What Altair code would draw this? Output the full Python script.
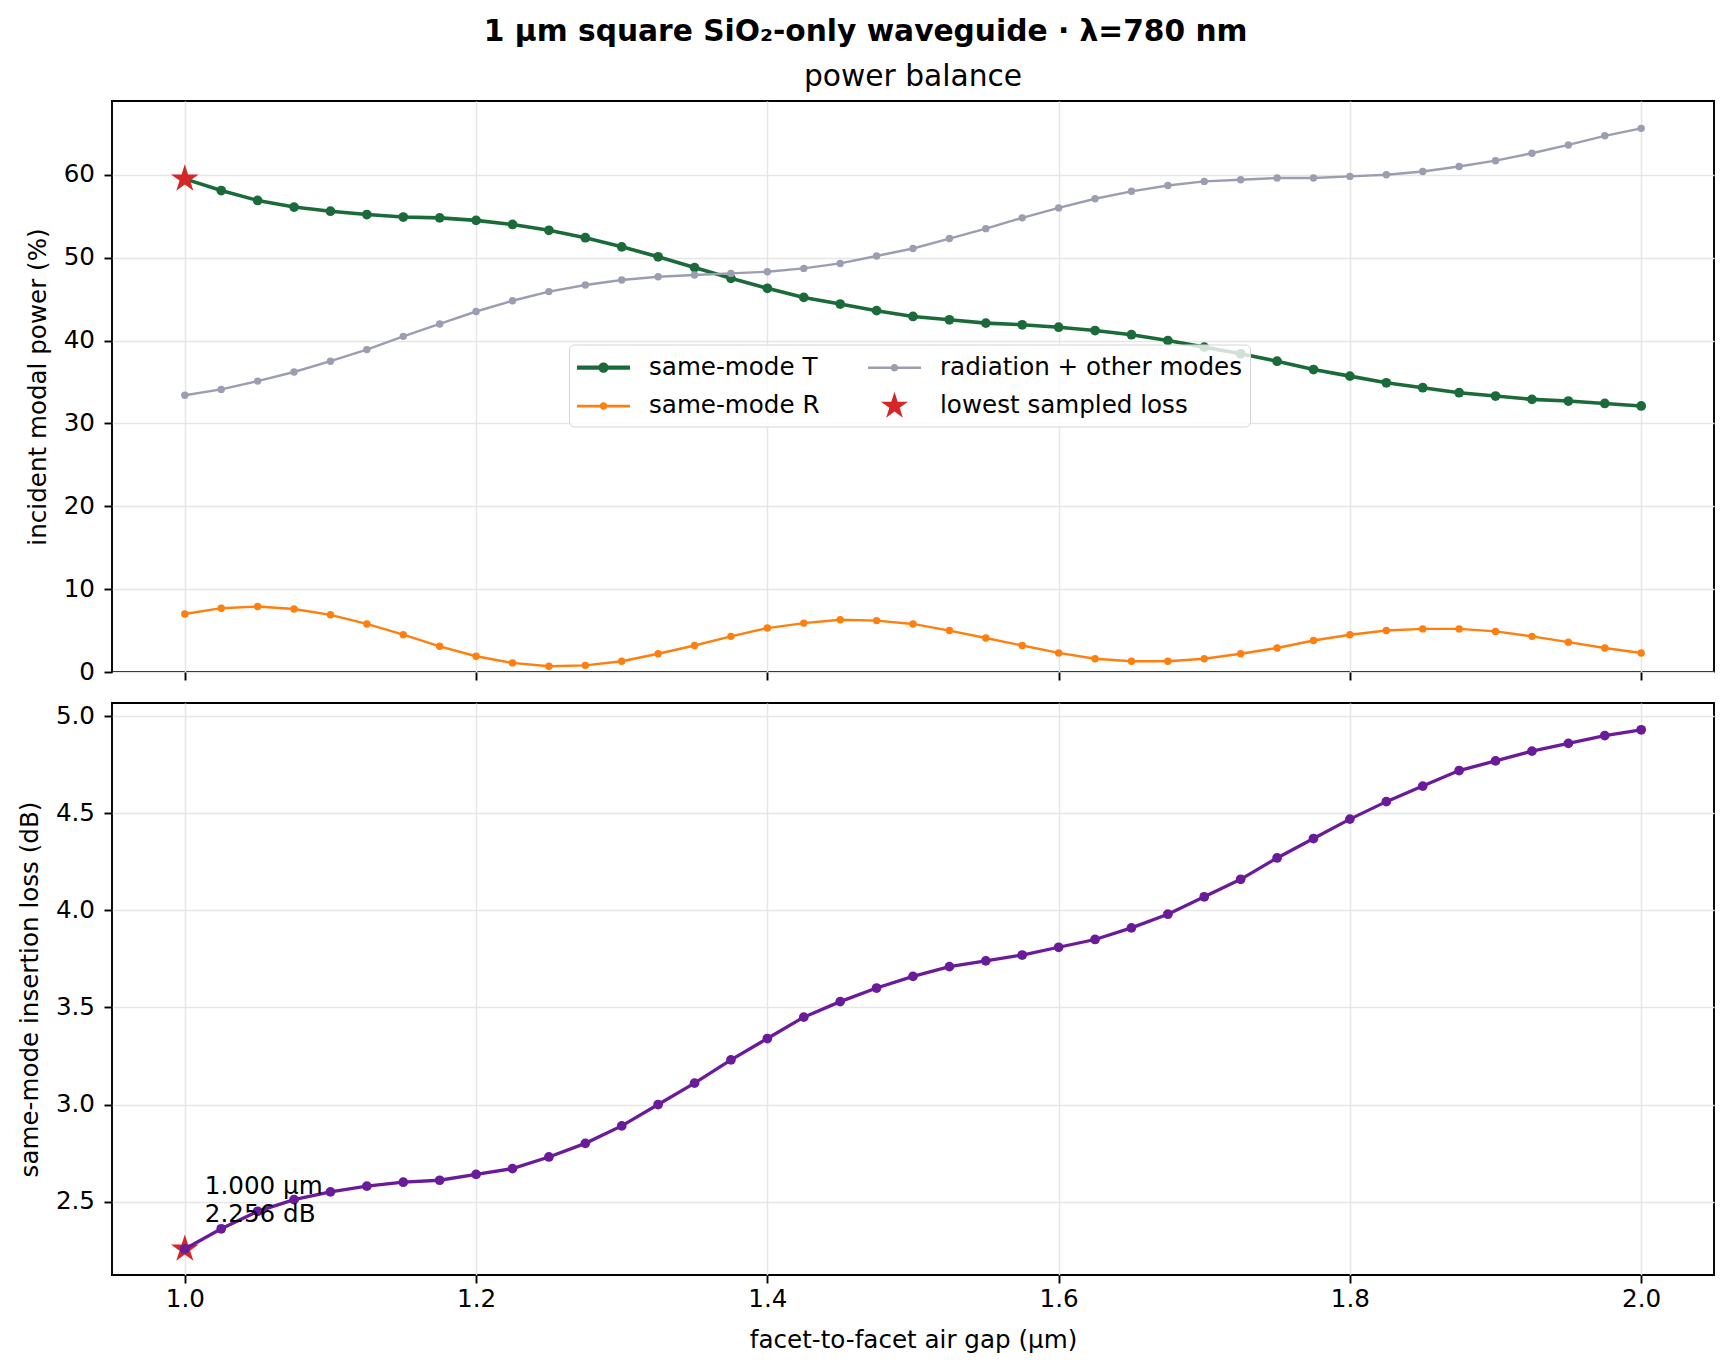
import math
import altair as alt
import pandas as pd

# facet-to-facet air gap (µm), one sample every 25 nm
GAP_UM = [1.000, 1.025, 1.050, 1.075, 1.100, 1.125, 1.150, 1.175, 1.200, 1.225,
          1.250, 1.275, 1.300, 1.325, 1.350, 1.375, 1.400, 1.425, 1.450, 1.475,
          1.500, 1.525, 1.550, 1.575, 1.600, 1.625, 1.650, 1.675, 1.700, 1.725,
          1.750, 1.775, 1.800, 1.825, 1.850, 1.875, 1.900, 1.925, 1.950, 1.975,
          2.000]

# same-mode transmission (%)
T_PCT = [59.5, 58.1, 56.9, 56.1, 55.6, 55.2, 54.9, 54.8, 54.5, 54.0,
         53.3, 52.4, 51.3, 50.1, 48.8, 47.5, 46.3, 45.2, 44.4, 43.6,
         42.9, 42.5, 42.1, 41.9, 41.6, 41.2, 40.7, 40.0, 39.2, 38.4,
         37.5, 36.5, 35.7, 34.9, 34.3, 33.7, 33.3, 32.9, 32.7, 32.4,
         32.1]

# same-mode reflection (%)
R_PCT = [7.0, 7.7, 7.9, 7.6, 6.9, 5.8, 4.5, 3.1, 1.9, 1.1,
         0.7, 0.8, 1.3, 2.2, 3.2, 4.3, 5.3, 5.9, 6.3, 6.2,
         5.8, 5.0, 4.1, 3.2, 2.3, 1.6, 1.3, 1.3, 1.6, 2.2,
         2.9, 3.8, 4.5, 5.0, 5.2, 5.2, 4.9, 4.3, 3.6, 2.9,
         2.3]

# radiation + other modes (%)
RAD_PCT = [33.4, 34.1, 35.1, 36.2, 37.5, 38.9, 40.5, 42.0, 43.5, 44.8,
           45.9, 46.7, 47.3, 47.7, 47.9, 48.1, 48.3, 48.7, 49.3, 50.2,
           51.1, 52.3, 53.5, 54.8, 56.0, 57.1, 58.0, 58.7, 59.2, 59.4,
           59.6, 59.6, 59.8, 60.0, 60.4, 61.0, 61.7, 62.6, 63.6, 64.7,
           65.6]

# same-mode insertion loss (dB)
LOSS_DB = [2.256, 2.36, 2.45, 2.51, 2.55, 2.58, 2.60, 2.61, 2.64, 2.67,
           2.73, 2.80, 2.89, 3.00, 3.11, 3.23, 3.34, 3.45, 3.53, 3.60,
           3.66, 3.71, 3.74, 3.77, 3.81, 3.85, 3.91, 3.98, 4.07, 4.16,
           4.27, 4.37, 4.47, 4.56, 4.64, 4.72, 4.77, 4.82, 4.86, 4.90,
           4.93]

X_TICKS = [1.0, 1.2, 1.4, 1.6, 1.8, 2.0]
Y_TICKS_TOP = [0, 10, 20, 30, 40, 50, 60]
Y_TICKS_BOT = [2.5, 3.0, 3.5, 4.0, 4.5, 5.0]

# legend order (Vega fills the 2 columns top to bottom)
SERIES = ["same-mode T", "same-mode R", "radiation + other modes", "lowest sampled loss"]

GREEN = "#1b6b3a"
ORANGE = "#ff7f0e"
GREY = "#9a9eb0"
PURPLE = "#6a1b9a"
RED = "#d62728"

FONT = "DejaVu Sans"
FS = 24.6        # 10 pt
FS_TITLE = 29.7  # 12 pt

df = pd.DataFrame({"gap": GAP_UM, "T": T_PCT, "R": R_PCT, "rad": RAD_PCT, "loss": LOSS_DB})

i_best = LOSS_DB.index(min(LOSS_DB))
best = pd.DataFrame({
    "gap": [GAP_UM[i_best]],
    "T": [T_PCT[i_best]],
    "loss": [LOSS_DB[i_best]],
    "label": [f"{GAP_UM[i_best]:.3f} µm\n{LOSS_DB[i_best]:.3f} dB"],
})


def star_path(R, cx=0.0):
    pts = []
    for k in range(10):
        rad = R if k % 2 == 0 else R * 0.381966
        a = math.radians(-90 + 36 * k)
        pts.append(f"{cx + rad * math.cos(a):.4f},{rad * math.sin(a):.4f}")
    return "M" + " L".join(pts) + " Z"


H_X0, H_X1 = -1.0, 2.533
H_C = (H_X0 + H_X1) / 2


def handle_path(t, r):
    # legend handle: line segment with a marker in its middle
    return (f"M{H_X0},{-t} H{H_X1} V{t} H{H_X0} Z "
            f"M{H_C + r},0 A{r},{r} 0 1,1 {H_C - r},0 A{r},{r} 0 1,1 {H_C + r},0 Z")


STAR = star_path(1.0)
SHAPES = [handle_path(0.14, 0.34), handle_path(0.085, 0.25),
          handle_path(0.085, 0.25), star_path(0.95, cx=H_C)]

COLOR_SCALE = alt.Scale(domain=SERIES, range=[GREEN, ORANGE, GREY, RED])
SHAPE_SCALE = alt.Scale(domain=SERIES, range=SHAPES)

X_SCALE = alt.Scale(domain=[0.95, 2.05], nice=False, zero=False)
Y_TOP_SCALE = alt.Scale(domain=[0, 68.9], nice=False)
Y_BOT_SCALE = alt.Scale(domain=[2.122, 5.068], nice=False, zero=False)

X_TOP = alt.X("gap:Q", scale=X_SCALE,
              axis=alt.Axis(values=X_TICKS, labels=False, title=None))
X_BOT = alt.X("gap:Q", scale=X_SCALE,
              axis=alt.Axis(values=X_TICKS, format=".1f", labelPadding=4.5, titlePadding=17,
                            title="facet-to-facet air gap (µm)"))
AX_Y_TOP = alt.Axis(values=Y_TICKS_TOP, title="incident modal power (%)")
AX_Y_BOT = alt.Axis(values=Y_TICKS_BOT, format=".1f", title="same-mode insertion loss (dB)")

LEG = alt.Legend(
    title=None, orient="none", legendX=457, legendY=243.5, columns=2,
    symbolSize=900, symbolStrokeWidth=0, symbolOpacity=1,
    labelFontSize=FS, labelLimit=400, labelOffset=42,
    rowPadding=11.6, columnPadding=48, padding=8,
    strokeColor="#d5d5d5", fillColor="rgba(255,255,255,0.8)", cornerRadius=5,
)

base = alt.Chart(df)


def top_series(field, color, width, size):
    return base.mark_line(
        color=color, strokeWidth=width,
        point=alt.OverlayMarkDef(filled=True, size=size, color=color, opacity=1),
    ).encode(x=X_TOP, y=alt.Y(f"{field}:Q", scale=Y_TOP_SCALE, axis=AX_Y_TOP))


star_top = alt.Chart(best).mark_point(
    shape=STAR, filled=True, color=RED, size=850, opacity=1, strokeWidth=0
).encode(x=X_TOP, y=alt.Y("T:Q", scale=Y_TOP_SCALE, axis=AX_Y_TOP))

legend_layer = base.transform_filter("false").transform_calculate(
    series="'same-mode T'"
).mark_point(filled=True, opacity=1).encode(
    color=alt.Color("series:N", scale=COLOR_SCALE, legend=LEG),
    shape=alt.Shape("series:N", scale=SHAPE_SCALE, legend=LEG),
)

top = alt.layer(
    top_series("T", GREEN, 3.6, 95),
    top_series("R", ORANGE, 2.4, 55),
    top_series("rad", GREY, 2.4, 55),
    star_top,
    legend_layer,
).properties(
    width=1602, height=571,
    title=alt.Title("power balance", fontSize=FS_TITLE, fontWeight="normal",
                    anchor="middle", frame="group", offset=8),
)

star_bot = alt.Chart(best).mark_point(
    shape=STAR, filled=True, color=RED, size=850, opacity=1, strokeWidth=0
).encode(x=X_BOT, y=alt.Y("loss:Q", scale=Y_BOT_SCALE, axis=AX_Y_BOT))

loss_line = base.mark_line(
    color=PURPLE, strokeWidth=3.3,
    point=alt.OverlayMarkDef(filled=True, size=95, color=PURPLE, opacity=1),
).encode(x=X_BOT, y=alt.Y("loss:Q", scale=Y_BOT_SCALE, axis=AX_Y_BOT))

note = alt.Chart(best).mark_text(
    align="left", baseline="top", dx=20, dy=-74, fontSize=FS,
    lineHeight=28.5, lineBreak="\n", color="black",
).encode(x=X_BOT, y=alt.Y("loss:Q", scale=Y_BOT_SCALE, axis=AX_Y_BOT), text="label:N")

bottom = alt.layer(star_bot, loss_line, note).properties(width=1602, height=572)

chart = alt.vconcat(
    top, bottom, spacing=31, bounds="flush",
    title=alt.Title("1 µm square SiO₂-only waveguide · λ=780 nm", fontSize=FS_TITLE,
                    fontWeight="bold", anchor="middle", offset=14),
).properties(
    padding={"left": 8, "top": 8, "right": 5, "bottom": 5},
).configure(
    font=FONT,
).configure_view(
    stroke="black", strokeWidth=1.9,
).configure_axis(
    labelFontSize=FS, titleFontSize=FS, titleFontWeight="normal",
    labelColor="black", titleColor="black", tickColor="black",
    tickSize=8, tickWidth=1.9, labelPadding=9.5, titlePadding=13,
    domain=False, grid=True, gridColor="#e6e6e6", gridWidth=1.5,
).configure_title(
    color="black",
)

chart.save("out.html", embed_options={"renderer": "svg", "actions": False})
